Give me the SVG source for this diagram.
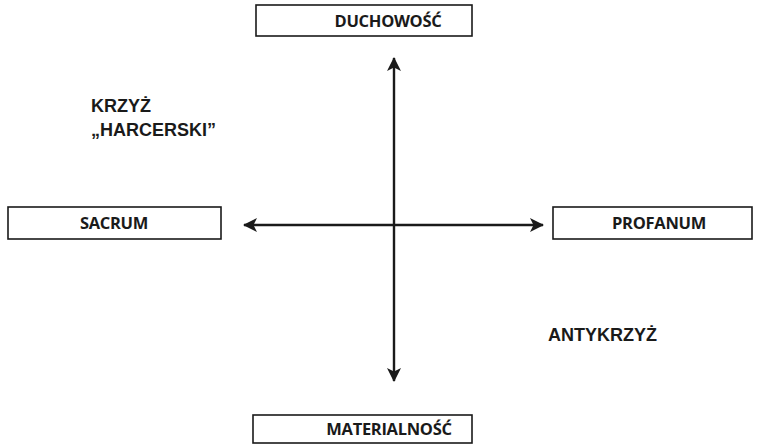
<svg xmlns="http://www.w3.org/2000/svg" width="757" height="446" viewBox="0 0 757 446">
<style>
.box{fill:#fff;stroke:#1a1a1a;stroke-width:1.6}
.lbl{font-family:"Open Sans","Liberation Sans",sans-serif;font-weight:bold;font-size:16.5px;fill:#1a1a1a;text-anchor:middle;letter-spacing:-0.3px}
.free{font-family:"Liberation Sans",Arial,sans-serif;font-weight:bold;font-size:18px;fill:#1a1a1a}
.con{stroke:#1a1a1a;stroke-width:2.4;fill:none}
</style>
<defs>
<marker id="ah" viewBox="0 0 14 14" refX="13" refY="7" markerWidth="14" markerHeight="14" markerUnits="userSpaceOnUse" orient="auto-start-reverse">
<path d="M0,0 L14,7 L0,14 L3.5,7 Z" fill="#1a1a1a"/>
</marker>
</defs>
<rect width="757" height="446" fill="#fff"/>
<g id="connectors">
<line class="con" x1="394" y1="58" x2="394" y2="381" marker-start="url(#ah)" marker-end="url(#ah)"/>
<line class="con" x1="244" y1="225" x2="543" y2="225" marker-start="url(#ah)" marker-end="url(#ah)"/>
</g>
<g id="duchowosc">
<rect class="box" x="256" y="5" width="216" height="31"/>
<text class="lbl" x="388" y="27">DUCHOWOŚĆ</text>
</g>
<g id="sacrum">
<rect class="box" x="8" y="207" width="213" height="32"/>
<text class="lbl" x="114" y="229">SACRUM</text>
</g>
<g id="profanum">
<rect class="box" x="553" y="207" width="199" height="32"/>
<text class="lbl" x="659" y="229">PROFANUM</text>
</g>
<g id="materialnosc">
<rect class="box" x="253" y="415" width="219" height="28"/>
<text class="lbl" x="389" y="435">MATERIALNOŚĆ</text>
</g>
<g id="krzyz">
<text class="free" x="91" y="112">KRZYŻ</text>
<text class="free" x="91" y="136">„HARCERSKI”</text>
</g>
<g id="antykrzyz">
<text class="free" x="548" y="341" font-size="19.5">ANTYKRZYŻ</text>
</g>
</svg>
